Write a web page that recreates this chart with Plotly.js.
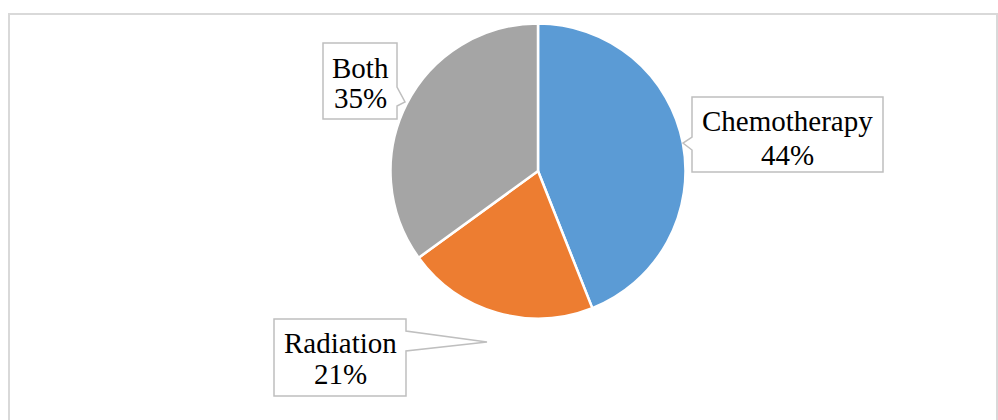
<!DOCTYPE html>
<html>
<head>
<meta charset="utf-8">
<script src="https://cdn.plot.ly/plotly-3.0.1.min.js"></script>
<style>html,body{margin:0;padding:0;background:#fff;}#chart{width:998px;height:420px;}</style>
</head>
<body>
<div id="chart"></div>
<script>
const categories = ['Chemotherapy', 'Radiation', 'Both'];
const values = [44, 21, 35];
const percentLabels = ['44%', '21%', '35%'];
const colors = ['#5B9BD5', '#ED7D31', '#A5A5A5'];

const W = 998, H = 420;
const px = x => x / W;
const py = y => 1 - y / H;

// callout geometry (pixels): box and pointer, text centers
const callouts = [
  {box: [692, 97, 883, 172], side: 'left', wedge: [137, 150], tip: [683, 143], cx: 787, y1: 121, y2: 154.5},
  {box: [274, 319, 406, 396], side: 'right', wedge: [331, 351], tip: [487, 342], cx: 340, y1: 342.5, y2: 374},
  {box: [323, 43, 397, 119], side: 'right', wedge: [87, 106], tip: [405, 102], cx: 360.5, y1: 68.5, y2: 98}
];

function calloutPath(c) {
  const [x0, y0, x1, y1] = c.box;
  let pts;
  if (c.side === 'right') {
    pts = [[x0, y0], [x1, y0], [x1, c.wedge[0]], c.tip, [x1, c.wedge[1]], [x1, y1], [x0, y1]];
  } else {
    pts = [[x0, y0], [x1, y0], [x1, y1], [x0, y1], [x0, c.wedge[1]], c.tip, [x0, c.wedge[0]]];
  }
  return 'M' + pts.map(p => px(p[0]).toFixed(5) + ',' + py(p[1]).toFixed(5)).join(' L') + ' Z';
}

const shapes = [{
  type: 'rect', xref: 'paper', yref: 'paper',
  x0: px(9), x1: px(997), y0: py(440), y1: py(14),
  line: {color: '#D9D9D9', width: 2}, fillcolor: 'rgba(0,0,0,0)', layer: 'below'
}];
const annotations = [];
const font = {family: 'Liberation Serif, Times New Roman, serif', size: 29, color: '#000'};
callouts.forEach((c, i) => {
  shapes.push({type: 'path', xref: 'paper', yref: 'paper', path: calloutPath(c),
    line: {color: '#BFBFBF', width: 1.5}, fillcolor: '#FFFFFF', layer: 'above'});
  annotations.push({xref: 'paper', yref: 'paper', x: px(c.cx), y: py(c.y1), text: categories[i],
    showarrow: false, xanchor: 'center', yanchor: 'middle', font: font});
  annotations.push({xref: 'paper', yref: 'paper', x: px(c.cx), y: py(c.y2), text: percentLabels[i],
    showarrow: false, xanchor: 'center', yanchor: 'middle', font: font});
});

const cxp = 538, cyp = 171, r = 147.5;
const trace = {
  type: 'pie',
  labels: categories,
  values: values,
  sort: false,
  direction: 'clockwise',
  rotation: 0,
  textinfo: 'none',
  hoverinfo: 'label+percent',
  marker: {colors: colors, line: {color: '#FFFFFF', width: 2.5}},
  domain: {x: [px(cxp - r), px(cxp + r)], y: [py(cyp + r), py(cyp - r)]},
  showlegend: false
};

Plotly.newPlot('chart', [trace], {
  width: W, height: H,
  margin: {l: 0, r: 0, t: 0, b: 0},
  paper_bgcolor: '#FFFFFF',
  showlegend: false,
  shapes: shapes,
  annotations: annotations
}, {displayModeBar: false});
</script>
</body>
</html>
